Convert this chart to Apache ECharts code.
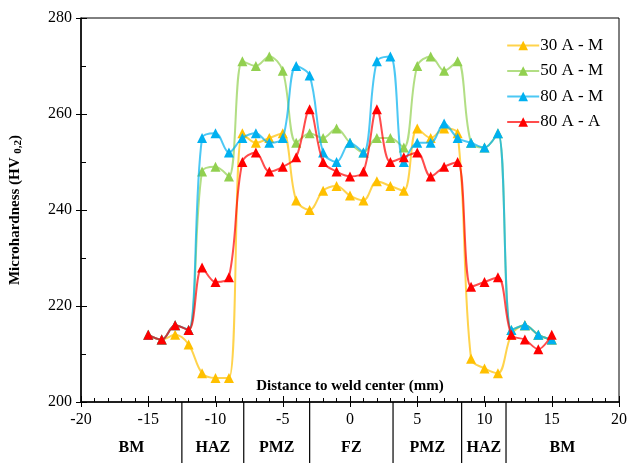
<!DOCTYPE html>
<html><head><meta charset="utf-8">
<script src="https://cdn.jsdelivr.net/npm/echarts@6/dist/echarts.min.js"></script>
<style>html,body{margin:0;padding:0;background:#fff}#c{width:630px;height:463px}</style>
</head><body><div id="c"></div>
<script>
const distances = [-15,-14,-13,-12,-11,-10,-9,-8,-7,-6,-5,-4,-3,-2,-1,0,1,2,3,4,5,6,7,8,9,10,11,12,13,14,15];
const s30AM = [214,213,214,212,206,205,205,256, 254,255,256,242,240,244,245,243, 242,246,245,244,257,255,257,256, 209,207,206,214,216,214,213];
const s50AM = [214,213,216,215,248,249,247,271, 270,272,269,254,256,255,257,254, 252,255,255,253,270,272,269,271, 254,253,256,215,216,214,213];
const s80AM = [214,213,216,215,255,256,252,255, 256,254,255,270,268,252,250,254, 252,271,272,250,254,254,258,255, 254,253,256,215,216,214,213];
const s80AA = [214,213,216,215,228,225,226,250, 252,248,249,251,261,250,248,247, 248,261,250,251,252,247,249,250, 224,225,226,214,213,211,214];
const seriesNames = ['30 A - M','50 A - M','80 A - M','80 A - A'];
const seriesColors = ['#FFC000','#92D050','#00B0F0','#FF0000'];
const xTicks = [-20,-15,-10,-5,0,5,10,15,20];
const yTicks = [200,220,240,260,280];
const zoneBounds = [-20,-12.5,-7.9,-3,3.2,8.3,11.6,20];
const zoneLabels = ['BM','HAZ','PMZ','FZ','PMZ','HAZ','BM'];
const xTitle = 'Distance to weld center (mm)';

const FONT = 'Liberation Serif';
const chart = echarts.init(document.getElementById('c'), null, {renderer:'canvas'});
const allVals = [s30AM, s50AM, s80AM, s80AA];
const series = allVals.map((vals, i) => ({
  name: seriesNames[i], type: 'line',
  data: distances.map((d, j) => [d, vals[j]]),
  smooth: 0.35, symbol: 'triangle', symbolSize: 10,
  itemStyle: {color: seriesColors[i]},
  lineStyle: {color: seriesColors[i], width: 2, opacity: 0.7},
  emphasis: {disabled: true}, animation: false, z: 2 + i
}));
const option = {
  animation: false,
  grid: {left: 80, right: 9, top: 18, bottom: 61, show: true, borderColor: '#000', borderWidth: 1, backgroundColor: 'transparent'},
  legend: {
    orient: 'vertical', right: 22, top: 32, itemWidth: 32, itemHeight: 12, itemGap: 8.5,
    textStyle: {fontFamily: FONT, fontSize: 17, color: '#000', padding: [0,0,0,-4]},
    data: seriesNames
  },
  xAxis: {
    type: 'value', min: -20, max: 20, interval: 5,
    axisLine: {onZero: false, lineStyle: {color: '#000', width: 1.5}},
    axisTick: {show: true, inside: true, length: 6, lineStyle: {color: '#000'}},
    minorTick: {show: true, splitNumber: 5, length: 4, lineStyle: {color: '#000'}},
    axisLabel: {fontFamily: FONT, fontSize: 16, color: '#000', margin: 10, formatter: v => xTicks.includes(v) ? String(v) : ''},
    splitLine: {show: false}
  },
  yAxis: {
    type: 'value', min: 200, max: 280, interval: 20,
    name: '{b|Microhardness (HV }{s|0,2}{b|)}', nameLocation: 'middle', nameGap: 57, nameRotate: 90,
    nameTextStyle: {rich: {
      b: {fontFamily: FONT, fontSize: 15, fontWeight: 'bold', color: '#000'},
      s: {fontFamily: FONT, fontSize: 11, fontWeight: 'bold', color: '#000', verticalAlign: 'bottom', padding: [6,0,0,0]}
    }},
    axisLine: {show: true, onZero: false, lineStyle: {color: '#000', width: 1.5}},
    axisTick: {show: true, inside: true, length: 6, lineStyle: {color: '#000'}},
    minorTick: {show: true, splitNumber: 2, length: 5, lineStyle: {color: '#000'}},
    axisLabel: {fontFamily: FONT, fontSize: 16, color: '#000', margin: 9, formatter: v => yTicks.includes(v) ? String(v) : ''},
    splitLine: {show: false}
  },
  series: series
};
chart.setOption(option);

const yBase = chart.convertToPixel({yAxisIndex: 0}, 200);
const xLeft = chart.convertToPixel({xAxisIndex: 0}, -20);
const graphics = [];
// outward halves of major ticks
xTicks.forEach(v => {
  const px = Math.round(chart.convertToPixel({xAxisIndex: 0}, v)) + 0.5;
  graphics.push({type: 'line', shape: {x1: px, y1: yBase, x2: px, y2: yBase + 5}, style: {stroke: '#000', lineWidth: 1}, silent: true});
});
yTicks.forEach(v => {
  const py = Math.round(chart.convertToPixel({yAxisIndex: 0}, v)) + 0.5;
  graphics.push({type: 'line', shape: {x1: xLeft - 5, y1: py, x2: xLeft, y2: py}, style: {stroke: '#000', lineWidth: 1}, silent: true});
});
zoneBounds.slice(1, -1).forEach(b => {
  const px = chart.convertToPixel({xAxisIndex: 0}, b);
  graphics.push({type: 'line', shape: {x1: px, y1: yBase, x2: px, y2: 463}, style: {stroke: '#000', lineWidth: 1.2}, silent: true});
});
zoneLabels.forEach((lab, i) => {
  const mid = (zoneBounds[i] + zoneBounds[i+1]) / 2;
  const px = chart.convertToPixel({xAxisIndex: 0}, mid);
  graphics.push({type: 'text', x: px, y: yBase + 46, style: {text: lab, fontFamily: FONT, fontSize: 16, fontWeight: 'bold', fill: '#000', align: 'center', verticalAlign: 'middle'}, silent: true});
});
graphics.push({type: 'text', x: chart.convertToPixel({xAxisIndex: 0}, 0), y: yBase - 16,
  style: {text: xTitle, fontFamily: FONT, fontSize: 15, fontWeight: 'bold', fill: '#000', align: 'center', verticalAlign: 'middle'}, silent: true});
chart.setOption({graphic: graphics});
</script></body></html>
